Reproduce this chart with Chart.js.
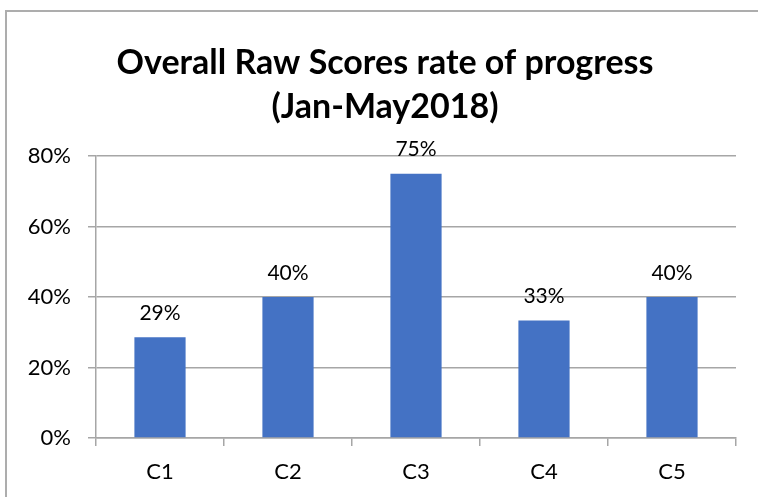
<!DOCTYPE html>
<html>
<head>
<meta charset="utf-8">
<script src="https://cdn.jsdelivr.net/npm/chart.js@4.4.1/dist/chart.umd.min.js"></script>
<style>
    html, body { margin: 0; padding: 0; background: #fff; }
    #wrap { position: relative; width: 758px; height: 497px; overflow: hidden; }
    #frame {
        position: absolute; left: 5px; top: 10px; width: 800px; height: 600px;
        border-top: 2px solid #adadad; border-left: 2px solid #adadad;
    }
    #chart { position: absolute; left: 0; top: 0; }
</style>
</head>
<body>
<div id="wrap">
    <div id="frame"></div>
    <canvas id="chart" width="758" height="497"></canvas>
</div>
<script>
// Data
const categories = ['C1', 'C2', 'C3', 'C4', 'C5'];
const scores = [0.2857, 0.40, 0.75, 0.3333, 0.40];
const yTickValues = [0, 0.2, 0.4, 0.6, 0.8];
const titleLines = ['Overall Raw Scores rate of progress', '(Jan-May2018)'];

const pct = v => Math.round(v * 100) + '%';
const gridColor = '#a6a6a6';

Chart.defaults.font.family = 'Lato';
Chart.defaults.color = '#000';

// two-line bold title, centred a bit left of the plot area like the original
const chartTitle = {
    id: 'chartTitle',
    afterDraw(chart) {
        const ctx = chart.ctx;
        ctx.save();
        ctx.font = 'bold 34px Lato';
        ctx.fillStyle = '#000';
        ctx.textAlign = 'center';
        ctx.textBaseline = 'middle';
        titleLines.forEach((line, i) => ctx.fillText(line, 385, 63 + i * 44));
        ctx.restore();
    }
};

// value labels above each bar
const barLabels = {
    id: 'barLabels',
    afterDatasetsDraw(chart) {
        const ctx = chart.ctx;
        const meta = chart.getDatasetMeta(0);
        ctx.save();
        ctx.font = '21px Lato';
        ctx.fillStyle = '#000';
        ctx.textAlign = 'center';
        ctx.textBaseline = 'middle';
        meta.data.forEach((bar, i) => {
            ctx.fillText(pct(scores[i]), bar.x, bar.y - 24);
        });
        ctx.restore();
    }
};

new Chart(document.getElementById('chart'), {
    type: 'bar',
    data: {
        labels: categories,
        datasets: [{
            data: scores,
            backgroundColor: '#4472C4',
            borderWidth: 0,
            categoryPercentage: 1,
            barPercentage: 0.4
        }]
    },
    options: {
        responsive: false,
        animation: false,
        layout: { padding: { left: 12, right: 22, top: 156, bottom: 0 } },
        plugins: {
            legend: { display: false },
            tooltip: { enabled: false },
            title: { display: false }
        },
        scales: {
            x: {
                offset: true,
                grid: { drawOnChartArea: false, drawTicks: true, tickLength: 8, color: gridColor, lineWidth: 1.5 },
                border: { color: gridColor, width: 1.5 },
                ticks: { font: { size: 22 }, padding: 13, color: '#000' },
                afterFit(scale) { scale.height = 59; }
            },
            y: {
                min: 0,
                max: 0.8,
                afterBuildTicks(scale) { scale.ticks = yTickValues.map(v => ({ value: v })); },
                grid: { color: gridColor, tickLength: 8, lineWidth: 1.5 },
                border: { color: gridColor, width: 1.5 },
                ticks: { font: { size: 22 }, padding: 17, color: '#000', callback: v => pct(v) },
                afterFit(scale) { scale.width = 84; }
            }
        }
    },
    plugins: [chartTitle, barLabels]
});
</script>
</body>
</html>
